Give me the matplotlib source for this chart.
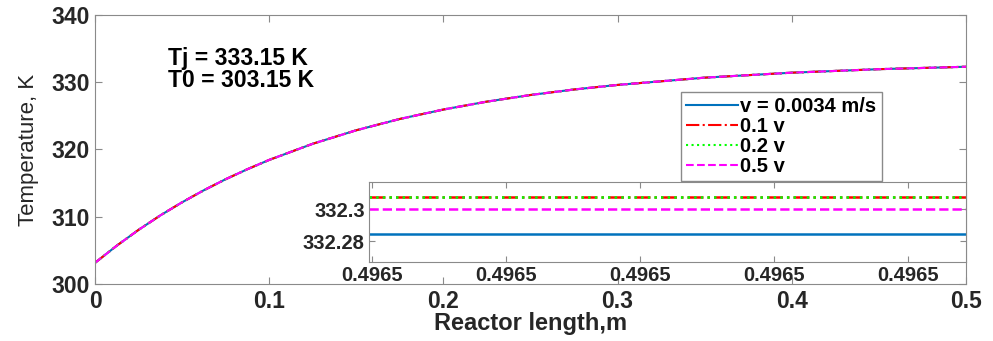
import matplotlib
matplotlib.use('Agg')
import matplotlib.pyplot as plt
from matplotlib.ticker import FixedLocator, FixedFormatter

# temperatura a lo largo del reactor (mismas curvas para las 4 velocidades)
x_len = [0, 0.0125, 0.025, 0.0375, 0.05, 0.0625, 0.075, 0.0875, 0.1, 0.125,
         0.15, 0.175, 0.2, 0.225, 0.25, 0.275, 0.3, 0.35, 0.4, 0.45, 0.5]
T_curve = [303.15, 305.7, 308.05, 310.2, 312.15, 313.94, 315.58, 317.07, 318.45,
           320.85, 322.86, 324.54, 325.94, 327.12, 328.1, 328.92, 329.6, 330.68,
           331.42, 331.94, 332.3]

labels = ['v = 0.0034 m/s', '0.1 v', '0.2 v', '0.5 v']
colors = ['#0072BD', '#FF0000', '#00FF00', '#FF00FF']
styles = ['-', '-.', ':', '--']

# zoom cerca de la salida
inset_x = [0.49649998, 0.4965016, 0.4965016, 0.49650443]
inset_T = {
    'v = 0.0034 m/s': [332.2843, 332.2843, 332.2845, 332.2845],
    '0.1 v': [332.3075, 332.3075, 332.3075, 332.3075],
    '0.2 v': [332.3075, 332.3075, 332.3075, 332.3075],
    '0.5 v': [332.2999, 332.2999, 332.2999, 332.2999],
}
inset_xticks = [0.496500, 0.496501, 0.496502, 0.496503, 0.496504]
inset_yticks = [332.28, 332.3]
inset_yticklabels = ['332.28', '332.3']

main_xticks = [0, 0.1, 0.2, 0.3, 0.4, 0.5]
main_xticklabels = ['0', '0.1', '0.2', '0.3', '0.4', '0.5']
main_yticks = [300, 310, 320, 330, 340]

plt.rcParams['font.family'] = ['Liberation Sans', 'DejaVu Sans']
gris = '#8a8a8a'
texto = '#262626'

fig = plt.figure(figsize=(9.93, 3.41), dpi=100)
ax = fig.add_axes([0.0957, 0.1672, 0.8771, 0.7889])

handles = []
for lab, c, s in zip(labels, colors, styles):
    h, = ax.plot(x_len, T_curve, color=c, linestyle=s, linewidth=1.5, label=lab)
    handles.append(h)

ax.set_xlim(0, 0.5)
ax.set_ylim(300, 340)
ax.xaxis.set_major_locator(FixedLocator(main_xticks))
ax.xaxis.set_major_formatter(FixedFormatter(main_xticklabels))
ax.set_yticks(main_yticks)
ax.tick_params(direction='in', top=True, right=True, length=5, color=gris,
               labelsize=16.5, labelcolor=texto, pad=4)
for lbl in ax.get_xticklabels() + ax.get_yticklabels():
    lbl.set_fontweight('bold')
for sp in ax.spines.values():
    sp.set_color(gris)
ax.set_xlabel('Reactor length,m', fontsize=17, fontweight='bold', color=texto)
ax.set_ylabel('Temperature, K', fontsize=16, color=texto)
ax.xaxis.set_label_coords(0.5, -0.148, transform=ax.transAxes)
ax.yaxis.set_label_coords(-0.076, 0.5, transform=ax.transAxes)
ax.xaxis.label.set_va('center')
ax.yaxis.label.set_va('center')

ax.text(0.084, 0.84, 'Tj = 333.15 K', transform=ax.transAxes, fontsize=16.5,
        fontweight='bold', color='black', va='center')
ax.text(0.084, 0.755, 'T0 = 303.15 K', transform=ax.transAxes, fontsize=16.5,
        fontweight='bold', color='black', va='center')

leg = ax.legend(handles=handles, loc='upper left', bbox_to_anchor=(0.6858, 0.7302),
                bbox_transform=fig.transFigure, fontsize=14.5, frameon=True,
                fancybox=False, edgecolor=gris, framealpha=1, borderpad=0.25,
                labelspacing=0.05, handlelength=2.6, handletextpad=0.1,
                borderaxespad=0)
leg.get_frame().set_linewidth(1.0)
for t in leg.get_texts():
    t.set_fontweight('bold')
    t.set_color('black')

# eje interior (zoom)
axin = fig.add_axes([0.3716, 0.2317, 0.6012, 0.2346])
for lab, c, s in zip(labels, colors, styles):
    axin.plot(inset_x, inset_T[lab], color=c, linestyle=s, linewidth=1.8)
axin.set_xlim(inset_x[0], inset_x[-1])
axin.set_ylim(332.2669, 332.3169)
axin.xaxis.set_major_locator(FixedLocator(inset_xticks))
axin.xaxis.set_major_formatter(FixedFormatter(['%.4f' % v for v in inset_xticks]))
axin.yaxis.set_major_locator(FixedLocator(inset_yticks))
axin.yaxis.set_major_formatter(FixedFormatter(inset_yticklabels))
axin.tick_params(direction='in', top=True, right=True, length=4, color=gris,
                 labelsize=14.5, labelcolor=texto, pad=3)
for lbl in axin.get_xticklabels() + axin.get_yticklabels():
    lbl.set_fontweight('bold')
for sp in axin.spines.values():
    sp.set_color(gris)

fig.savefig('out.png', dpi=100)
